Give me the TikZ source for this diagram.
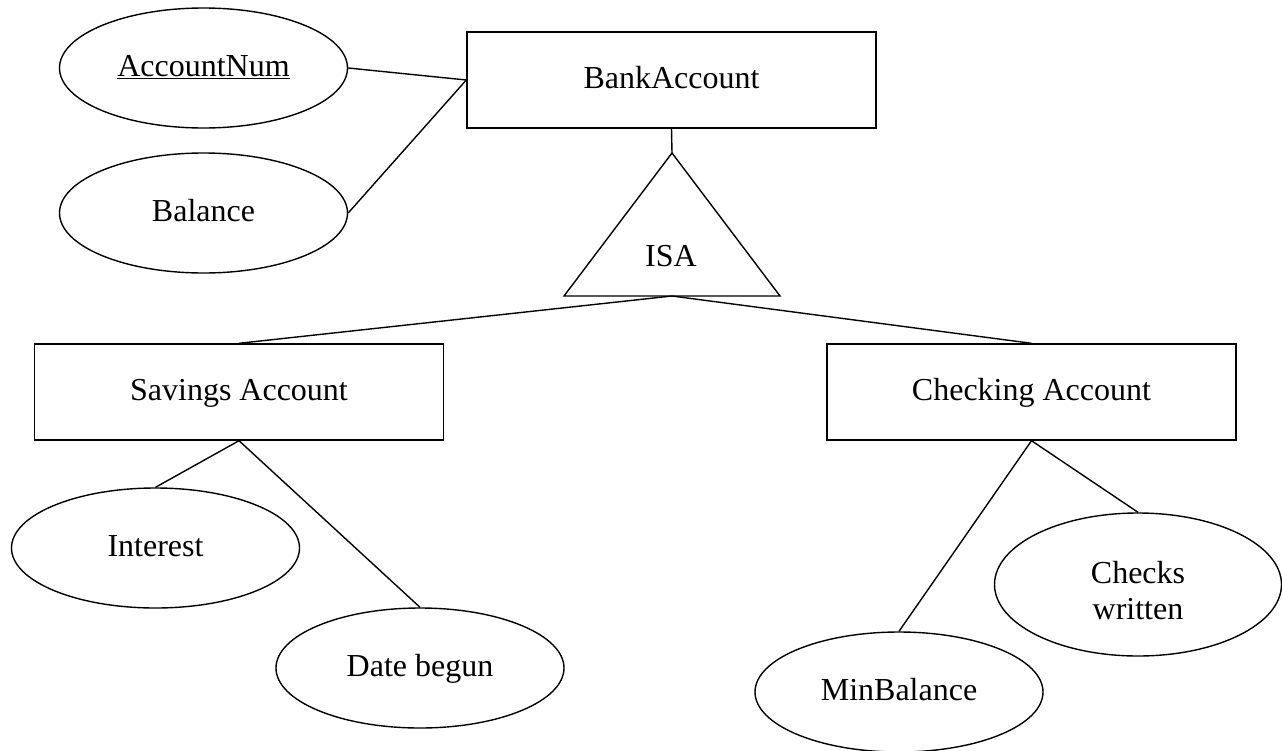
\documentclass[tikz,border=0pt]{standalone}
\usepackage{fontspec}
\setmainfont{Liberation Serif}
\usetikzlibrary{shapes.geometric}
\begin{document}
\begin{tikzpicture}[x=1pt,y=-1pt,
  every node/.style={font=\fontsize{32}{36}\selectfont, inner sep=0pt},
  lbl/.style={text height=23pt, text depth=6.4pt},
  entbox/.style={lbl, draw, line width=1.4pt, minimum width=409pt, minimum height=96pt},
  attr/.style={lbl, draw, ellipse, line width=1.4pt, minimum width=288pt, minimum height=120pt},
  conn/.style={line width=1.4pt}]
\useasboundingbox (0,0) rectangle (1282,750);
% entities
\node[entbox] (bank) at (671.5,80) {BankAccount};
\node[entbox] (sav) at (239,392) {Savings Account};
\node[entbox] (chk) at (1031.5,392) {Checking Account};
% attributes
\node[attr] (accnum) at (203.5,68) {\vtop{\hbox{AccountNum}\kern1.2pt\hrule height 1.3pt}};
\node[attr] (bal) at (203.5,213) {Balance};
\node[attr] (int) at (155.5,548) {Interest};
\node[attr] (date) at (420,668) {Date begun};
\node[attr] (minb) at (899,692) {MinBalance};
\node[attr, minimum width=287pt, minimum height=143pt] (chw) at (1138,584.5) {};
\node[align=center] (chwt) at (1138,591) {Checks\\written};
% ISA triangle
\coordinate (apex) at (672,153);
\coordinate (bl) at (564,296);
\coordinate (br) at (780,296);
\coordinate (bm) at (672,296);
\draw[conn] (apex) -- (bl) -- (br) -- cycle;
\node[lbl] (isa) at (671,257.7) {ISA};
% connectors
\draw[conn] (accnum.east) -- (bank.west);
\draw[conn] (bal.east) -- (bank.west);
\draw[conn] (bank.south) -- (apex);
\draw[conn] (sav.north) -- (bm) -- (chk.north);
\draw[conn] (int.north) -- (sav.south) -- (date.north);
\draw[conn] (minb.north) -- (chk.south) -- (chw.north);
\end{tikzpicture}
\end{document}
